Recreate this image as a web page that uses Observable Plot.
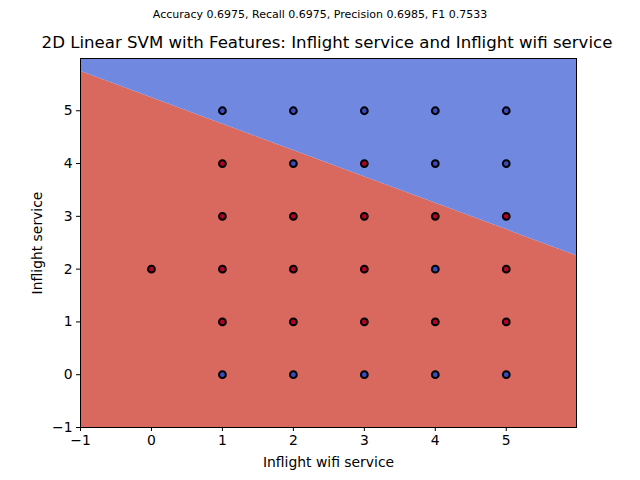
<!DOCTYPE html>
<html><head><meta charset="utf-8">
<script src="https://cdn.jsdelivr.net/npm/d3@7"></script>
<script src="https://cdn.jsdelivr.net/npm/@observablehq/plot@0.6"></script>
<style>
body{margin:0;background:#fff;font-family:"DejaVu Sans",sans-serif;}
#wrap{position:relative;width:640px;height:480px;}
.t{position:absolute;left:0;width:640px;text-align:center;color:#000;white-space:nowrap;}
#sub{top:8px;font-size:11px;}
#title{top:33px;font-size:16.6px;left:7px;}
</style></head><body>
<div id="wrap">
<div class="t" id="sub">Accuracy 0.6975, Recall 0.6975, Precision 0.6985, F1 0.7533</div>
<div class="t" id="title">2D Linear SVM with Features: Inflight service and Inflight wifi service</div>
<div id="chart"></div>
</div>
<script>
const xTicks = [-1, 0, 1, 2, 3, 4, 5];
const yTicks = [-1, 0, 1, 2, 3, 4, 5];
const xDomain = [-1, 5.99];
const yDomain = [-1, 5.99];
// decision boundary (endpoints)
const boundaryX = [-1, 5.99];
const boundaryY = [5.75, 2.255];
// sample points: Inflight wifi service, Inflight service, class (0 = blue, 1 = red)
const ptX =     [1,2,3,4,5, 1,2,3,4,5, 1,2,3,4,5, 0,1,2,3,4,5, 1,2,3,4,5, 1,2,3,4,5];
const ptY =     [5,5,5,5,5, 4,4,4,4,4, 3,3,3,3,3, 2,2,2,2,2,2, 1,1,1,1,1, 0,0,0,0,0];
const ptClass = [0,0,0,0,0, 1,0,1,0,0, 1,1,1,1,1, 1,1,1,1,0,1, 1,1,1,1,1, 0,0,0,0,0];

const boundary = boundaryX.map((x, i) => ({x, y: boundaryY[i]}));
const points = ptX.map((x, i) => ({x, y: ptY[i], c: ptClass[i]}));
const fmt = d => d < 0 ? "\u2212" + Math.abs(d) : String(d);

const chart = Plot.plot({
  width: 640, height: 480,
  marginLeft: 80, marginRight: 64, marginTop: 58, marginBottom: 53,
  style: {fontFamily: "DejaVu Sans, sans-serif", fontSize: "13.9px", color: "#000", background: "transparent"},
  x: {domain: xDomain},
  y: {domain: yDomain},
  marks: [
    Plot.areaY(boundary, {x: "x", y1: yDomain[0], y2: "y", fill: "#d9685f"}),
    Plot.areaY(boundary, {x: "x", y1: "y", y2: yDomain[1], fill: "#7088e0"}),
    Plot.dot(points, {x: "x", y: "y", r: 3.4, fill: d => d.c === 1 ? "#b40426" : "#3b4cc0", stroke: "#000", strokeWidth: 2}),
    Plot.frame({stroke: "#000", strokeWidth: 1}),
    Plot.axisX({ticks: xTicks, tickSize: 4, tickPadding: 4, label: null, fontSize: 13.9, tickFormat: fmt}),
    Plot.axisY({ticks: yTicks, tickSize: 4, tickPadding: 4, label: null, fontSize: 13.9, tickFormat: fmt}),
    Plot.text(["Inflight wifi service"], {frameAnchor: "bottom", dy: 35, lineAnchor: "middle", text: d => d, fontSize: 13.9}),
    Plot.text(["Inflight service"], {frameAnchor: "left", dx: -43, rotate: -90, textAnchor: "middle", lineAnchor: "middle", text: d => d, fontSize: 13.9})
  ]
});
document.getElementById("chart").appendChild(chart);
</script>
</body></html>
